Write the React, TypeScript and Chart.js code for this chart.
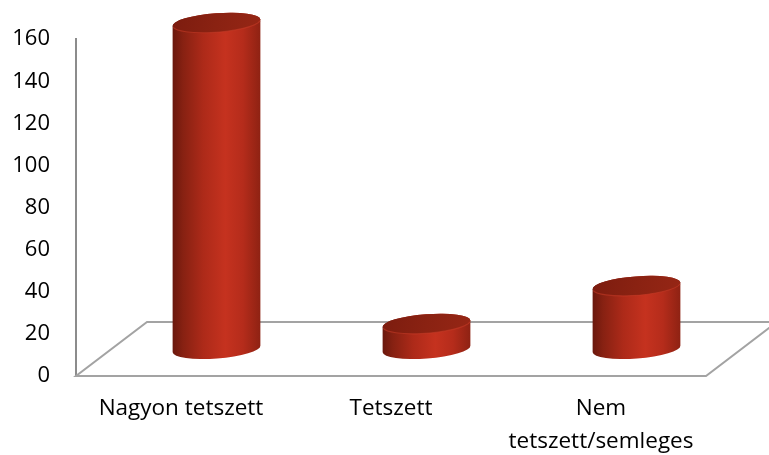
import React, { useEffect, useRef } from "react";
import { Chart, registerables } from "chart.js";

Chart.register(...registerables);

const categories: (string | string[])[] = [
  "Nagyon tetszett",
  "Tetszett",
  ["Nem", "tetszett/semleges"],
];
const values: number[] = [155, 12, 30];
const yMin = 0;
const yMax = 160;
const yStep = 20;

// 3D depth of the floor (oblique projection)
const DEPTH_DX = 71;
const DEPTH_DY = -54;

const FONT = "'Open Sans', Lato, 'DejaVu Sans', sans-serif";

const cylinderPlugin = {
  id: "cylinders",
  beforeDatasetsDraw(chart: any) {
    const ctx = chart.ctx as CanvasRenderingContext2D;
    const { left, right } = chart.chartArea;
    const y0 = chart.scales.y.getPixelForValue(0);
    ctx.save();
    ctx.strokeStyle = "#a3a3a3";
    ctx.lineWidth = 2;
    ctx.beginPath();
    ctx.moveTo(left, y0);
    ctx.lineTo(right, y0);
    ctx.lineTo(right + DEPTH_DX, y0 + DEPTH_DY);
    ctx.lineTo(left + DEPTH_DX, y0 + DEPTH_DY);
    ctx.closePath();
    ctx.stroke();
    ctx.restore();
  },
  afterDatasetsDraw(chart: any) {
    const ctx = chart.ctx as CanvasRenderingContext2D;
    const meta = chart.getDatasetMeta(0);
    meta.data.forEach((bar: any) => {
      const p = bar.getProps(["x", "y", "base", "width"], true);
      const cx = p.x + DEPTH_DX / 2;
      const topY = p.y + DEPTH_DY / 2;
      const botY = p.base + DEPTH_DY / 2;
      const a = p.width / 2;
      const b = 9.5;
      const th = -0.075;
      const ca = Math.cos(th) * a;
      const sa = Math.sin(th) * a;

      ctx.save();
      const g = ctx.createLinearGradient(cx - a, 0, cx + a, 0);
      g.addColorStop(0, "#6a180d");
      g.addColorStop(0.12, "#872112");
      g.addColorStop(0.35, "#ad2a19");
      g.addColorStop(0.6, "#c5321f");
      g.addColorStop(0.8, "#b52c1b");
      g.addColorStop(1, "#8e2213");
      ctx.beginPath();
      ctx.moveTo(cx - ca, topY - sa);
      ctx.lineTo(cx - ca, botY - sa);
      ctx.ellipse(cx, botY, a, b, th, Math.PI, 0, true);
      ctx.lineTo(cx + ca, topY + sa);
      ctx.ellipse(cx, topY, a, b, th, 0, Math.PI, true);
      ctx.closePath();
      ctx.fillStyle = g;
      ctx.fill();

      const gc = ctx.createLinearGradient(cx - a, topY - b, cx + a, topY + b);
      gc.addColorStop(0, "#7c1c0f");
      gc.addColorStop(0.5, "#8a2212");
      gc.addColorStop(1, "#962615");
      ctx.beginPath();
      ctx.ellipse(cx, topY, a, b, th, 0, Math.PI * 2);
      ctx.fillStyle = gc;
      ctx.fill();
      ctx.beginPath();
      ctx.ellipse(cx, topY, a, b, th, 0.15, Math.PI - 0.15);
      ctx.strokeStyle = "rgba(200,60,40,0.55)";
      ctx.lineWidth = 1.2;
      ctx.stroke();
      ctx.restore();
    });
  },
};

export default function App() {
  const ref = useRef<HTMLCanvasElement | null>(null);
  useEffect(() => {
    if (!ref.current) return;
    const chart = new Chart(ref.current, {
      type: "bar",
      data: {
        labels: categories,
        datasets: [
          {
            data: values,
            backgroundColor: "rgba(0,0,0,0)",
            borderWidth: 0,
            barPercentage: 88 / 210,
            categoryPercentage: 1,
          },
        ],
      },
      options: {
        animation: false,
        responsive: false,
        devicePixelRatio: 1,
        layout: { padding: { top: 37.5, right: 63, left: 0, bottom: 0 } },
        plugins: {
          legend: { display: false },
          tooltip: { enabled: false },
        },
        scales: {
          x: {
            grid: { display: false, drawTicks: false },
            border: { display: false },
            ticks: {
              color: "#000",
              padding: 16,
              maxRotation: 0,
              autoSkip: false,
              font: { family: FONT, size: 22.5, lineHeight: 33 / 22.5 },
            },
            afterFit: (s: any) => {
              s.height = 79;
            },
          },
          y: {
            min: yMin,
            max: yMax,
            grid: { display: false, drawTicks: false },
            border: { display: true, color: "#8c8c8c", width: 2 },
            ticks: {
              stepSize: yStep,
              color: "#000",
              padding: 26,
              font: { family: FONT, size: 22 },
            },
            afterFit: (s: any) => {
              s.width = 76;
            },
          },
        },
      },
      plugins: [cylinderPlugin],
    });
    return () => chart.destroy();
  }, []);
  return (
    <div style={{ position: "fixed", left: 0, top: 0, width: 769, height: 455, background: "#fff" }}>
      <canvas ref={ref} width={769} height={455} style={{ width: 769, height: 455, display: "block" }} />
    </div>
  );
}
